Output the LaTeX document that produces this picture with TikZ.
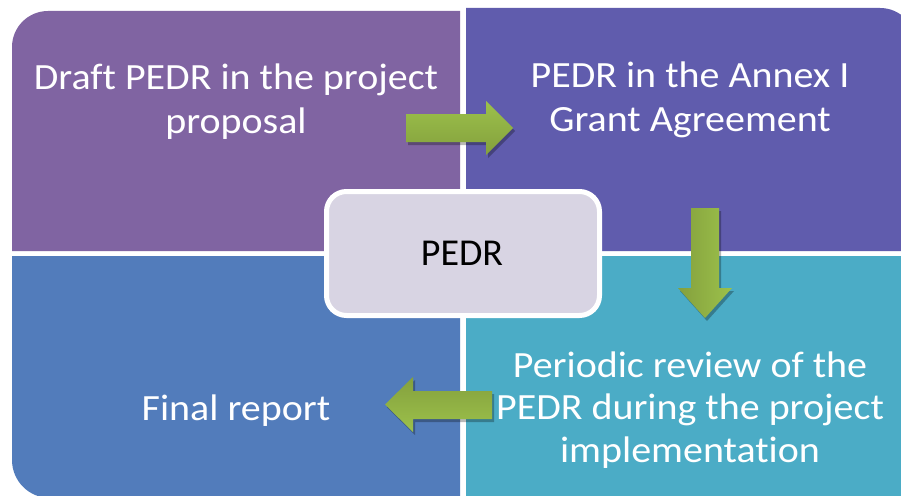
\documentclass[tikz,border=0pt]{standalone}
\usepackage{fontspec}
\setmainfont[Ligatures=NoCommon]{Carlito}
\newfontfamily\lblfont[FakeStretch=1.08, Ligatures=NoCommon]{Carlito}
\usetikzlibrary{calc}
\definecolor{qpurple}{HTML}{8064A2}
\definecolor{qindigo}{HTML}{605CAD}
\definecolor{qblue}{HTML}{527CBB}
\definecolor{qaqua}{HTML}{4BACC6}
\definecolor{hubfill}{HTML}{D8D4E3}
\definecolor{arrlight}{HTML}{9CC14B}
\definecolor{arrdark}{HTML}{84A03D}
\tikzset{
  lbl/.style={text=white, font=\lblfont\fontsize{37}{44}\selectfont, align=center, anchor=base, inner sep=0pt},
  hub/.style={draw=white, line width=5pt, fill=hubfill, rounded corners=20pt,
              minimum width=273pt, minimum height=124pt, inner sep=0pt},
  arrshadow/.style={fill=black, opacity=0.28},
}
\begin{document}
\begin{tikzpicture}[x=1pt, y=-1pt]
\useasboundingbox (0,0) rectangle (901,495);
\fill[white] (0,0) rectangle (901,495);
% quadrants
\fill[qpurple] (460,251) -- (12,251) [rounded corners=36pt] -- (12,11) [sharp corners] -- (460,11) -- cycle;
\fill[qindigo] (466,251) -- (466,8) [rounded corners=36pt] -- (916,8) [sharp corners] -- (916,251) -- cycle;
\fill[qblue] (460,256) -- (12,256) [rounded corners=38pt] -- (12,498) [sharp corners] -- (460,498) -- cycle;
\fill[qaqua] (466,256) -- (916,256) -- (916,498) -- (466,498) -- cycle;
% texts (anchor base = baseline of last line)
\node[lbl] (tl) at (236,133) {Draft PEDR in the project\\proposal};
\node[lbl] (tr) at (690,131) {PEDR in the Annex I\\Grant Agreement};
\node[lbl, font=\lblfont\fontsize{37}{42.5}\selectfont] (br) at (690,462) {Periodic review of the\\PEDR during the project\\implementation};
\node[lbl] (bl) at (236,420) {Final report};
% hub
\node[hub] (hub) at (463,253.5) {};
\node[anchor=base, inner sep=0pt, font=\fontsize{38}{46}\selectfont, text=black] (hubtext) at (462,265) {PEDR};
% arrows: right
\fill[arrshadow] ($(406,114)+(2,3)$) -- ++(80,0) -- ++(0,-13) -- ++(27,27) -- ++(-27,27) -- ++(0,-13) -- ++(-80,0) -- cycle;
\shade[top color=arrlight, bottom color=arrdark] (406,114) -- (486,114) -- (486,101) -- (513,128) -- (486,155) -- (486,142) -- (406,142) -- cycle;
% down
\fill[arrshadow] ($(691,208)+(2,3)$) -- ++(0,80) -- ++(-13,0) -- ++(27,30) -- ++(27,-30) -- ++(-13,0) -- ++(0,-80) -- cycle;
\shade[left color=arrdark, right color=arrlight] (691,208) -- (691,288) -- (678,288) -- (705,318) -- (732,288) -- (719,288) -- (719,208) -- cycle;
% left
\fill[arrshadow] ($(492,391)+(2,3)$) -- ++(-79,0) -- ++(0,-14) -- ++(-28,27.5) -- ++(28,27.5) -- ++(0,-13) -- ++(79,0) -- cycle;
\shade[top color=arrdark, bottom color=arrlight] (492,391) -- (413,391) -- (413,377) -- (385,404.5) -- (413,432) -- (413,419) -- (492,419) -- cycle;
\end{tikzpicture}
\end{document}
